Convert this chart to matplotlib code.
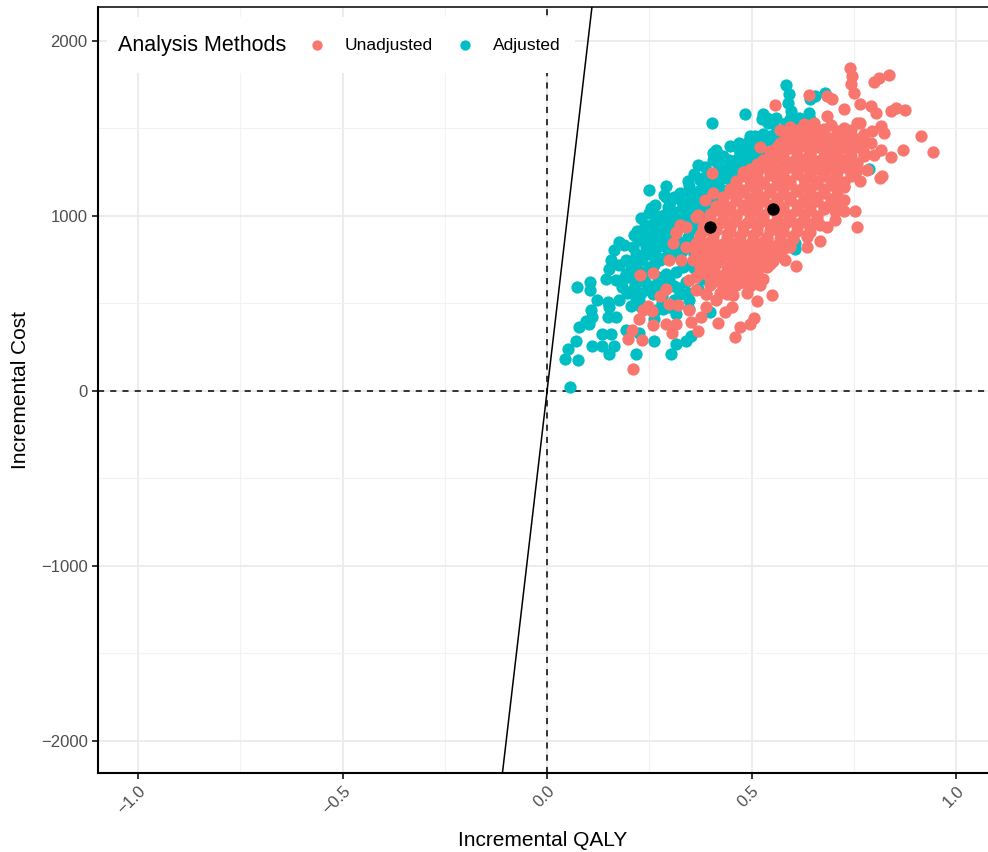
import matplotlib.pyplot as plt
from matplotlib.patches import Rectangle

plt.rcParams['font.family'] = ['Liberation Sans', 'DejaVu Sans']

# bootstrap replicates (incremental QALY, incremental cost)
adj_qaly = [
    0.584, 0.591, 0.589, 0.596, 0.656, 0.643, 0.680, 0.485, 0.403, 0.529, 0.537, 0.525, 0.541,
    0.369, 0.414, 0.406, 0.430, 0.418, 0.469, 0.492, 0.508, 0.529, 0.398, 0.381, 0.248, 0.291,
    0.295, 0.254, 0.250, 0.230, 0.260, 0.287, 0.221, 0.213, 0.176, 0.164, 0.189, 0.156, 0.152,
    0.176, 0.143, 0.168, 0.074, 0.104, 0.123, 0.148, 0.152, 0.107, 0.111, 0.095, 0.103, 0.078,
    0.168, 0.148, 0.135, 0.156, 0.111, 0.135, 0.164, 0.152, 0.070, 0.052, 0.043, 0.076, 0.193,
    0.217, 0.225, 0.262, 0.303, 0.316, 0.340, 0.352, 0.262, 0.398, 0.176, 0.205, 0.217, 0.258,
    0.283, 0.316, 0.348, 0.787, 0.606, 0.607, 0.056, 0.104,
    0.193, 0.217, 0.242, 0.275, 0.299, 0.316, 0.340, 0.365, 0.389, 0.414, 0.439, 0.463, 0.488,
    0.512, 0.545, 0.578, 0.611, 0.643, 0.201, 0.234, 0.250, 0.275, 0.299, 0.250, 0.275, 0.299,
    0.209, 0.225, 0.184, 0.324, 0.348, 0.373, 0.340, 0.291, 0.266, 0.234, 0.209, 0.217, 0.193,
    0.447, 0.471, 0.496, 0.553, 0.594, 0.627, 0.291, 0.316, 0.365, 0.389, 0.414, 0.439, 0.463,
    0.496, 0.529, 0.561, 0.594, 0.316, 0.348, 0.332, 0.291, 0.324, 0.348, 0.299, 0.266,
    0.258, 0.283, 0.308, 0.330, 0.355, 0.375, 0.400, 0.425, 0.450, 0.475, 0.500, 0.520, 0.545,
    0.570, 0.600, 0.620, 0.240, 0.265, 0.310, 0.330, 0.240, 0.270, 0.310, 0.340, 0.230, 0.280,
    0.310, 0.370, 0.380, 0.360, 0.300, 0.350, 0.390,
    0.205, 0.225, 0.250, 0.270, 0.290, 0.315, 0.335, 0.355, 0.380, 0.400, 0.425, 0.450, 0.475,
    0.500, 0.525, 0.555, 0.580, 0.610, 0.215, 0.240, 0.262, 0.285, 0.305, 0.322, 0.345, 0.360,
    0.375, 0.260, 0.290, 0.315, 0.340, 0.360, 0.195, 0.185, 0.230, 0.280, 0.320, 0.345, 0.262,
    0.285, 0.305, 0.330, 0.350, 0.300, 0.270, 0.240, 0.250, 0.225, 0.420, 0.445, 0.470, 0.490,
    0.520, 0.560, 0.585, 0.615, 0.640, 0.560,
    0.345, 0.360, 0.385, 0.405, 0.430, 0.455, 0.480, 0.505, 0.535, 0.395, 0.375, 0.355, 0.325,
    0.305, 0.280, 0.255, 0.232, 0.215, 0.270, 0.330, 0.310, 0.285, 0.265,
]
adj_cost = [
    1747, 1697, 1648, 1600, 1686, 1670, 1705, 1584, 1529, 1581, 1562, 1552, 1533,
    1291, 1376, 1360, 1341, 1303, 1418, 1422, 1456, 1466, 1245, 1217, 1146, 1111,
    1054, 1044, 1019, 989, 954, 1006, 916, 891, 852, 805, 833, 747, 699,
    718, 642, 632, 594, 575, 517, 508, 479, 460, 421, 402, 383, 364,
    421, 421, 326, 326, 259, 259, 259, 211, 287, 239, 180, 176, 349,
    213, 333, 287, 211, 268, 283, 316, 412, 450, 517, 488, 527, 555,
    466, 437, 466, 1269, 846, 811, 23, 623,
    747, 785, 824, 900, 939, 996, 1054, 1130, 1169, 1207, 1264, 1322, 1360,
    1418, 1456, 1494, 1533, 1552, 651, 670, 709, 747, 766, 575, 594, 632,
    575, 517, 594, 1130, 1169, 1207, 977, 824, 747, 900, 824, 709, 670,
    1398, 1360, 1456, 1533, 1552, 1513, 1169, 1111, 1092, 1054, 1092, 1149, 1226,
    1264, 1322, 1379, 1418, 862, 824, 709, 670, 555, 517, 479, 460,
    870, 850, 900, 940, 1000, 1040, 1100, 1150, 1200, 1250, 1300, 1350, 1400,
    1440, 1470, 1480, 790, 800, 780, 800, 620, 650, 600, 620, 560, 540,
    520, 580, 640, 700, 860, 920, 1000,
    700, 740, 780, 830, 880, 940, 1010, 1060, 1110, 1160, 1210, 1260, 1300,
    1350, 1390, 1420, 1460, 1490, 610, 680, 720, 760, 810, 850, 880, 950,
    1000, 600, 640, 680, 720, 780, 560, 640, 480, 500, 590, 560, 900,
    960, 1030, 1080, 1130, 1080, 1000, 950, 870, 860, 1280, 1320, 1380, 1410,
    1440, 1480, 1530, 1560, 1590, 1560,
    1200, 1240, 1280, 1320, 1230, 1290, 1330, 1380, 1420, 1200, 1150, 1090, 1030,
    990, 930, 820, 760, 740, 870, 980, 1110, 1120, 1060,
]

unadj_qaly = [
    0.740, 0.745, 0.743, 0.751, 0.799, 0.811, 0.836, 0.641, 0.558, 0.852, 0.875, 0.840, 0.915,
    0.943, 0.871, 0.841, 0.820, 0.814, 0.766, 0.752, 0.725, 0.705, 0.758, 0.668, 0.635, 0.609,
    0.582, 0.551, 0.512, 0.507, 0.496, 0.472, 0.459, 0.418, 0.414, 0.209, 0.199, 0.207, 0.232,
    0.225, 0.234, 0.259, 0.291, 0.305, 0.316, 0.352, 0.370, 0.377, 0.348, 0.389, 0.260, 0.227,
    0.257, 0.246, 0.275, 0.291, 0.299, 0.320, 0.402, 0.385, 0.406, 0.414, 0.369, 0.324, 0.316,
    0.299, 0.307, 0.521, 0.570, 0.586, 0.570, 0.627, 0.652, 0.684, 0.697, 0.684, 0.725, 0.766,
    0.791, 0.803, 0.816, 0.824, 0.795, 0.766, 0.791, 0.799, 0.816, 0.775, 0.783, 0.750, 0.725,
    0.725, 0.709, 0.705, 0.684, 0.668, 0.635, 0.594, 0.541, 0.521, 0.504, 0.480, 0.451, 0.439,
    0.451, 0.434, 0.389, 0.365, 0.348, 0.328, 0.340, 0.316, 0.340, 0.365,
    # dense core
    0.594, 0.627, 0.660, 0.693, 0.725, 0.758,
    0.611, 0.643, 0.676, 0.709, 0.742, 0.775,
    0.578, 0.611, 0.643, 0.676, 0.709, 0.742, 0.775,
    0.545, 0.578, 0.611, 0.643, 0.676, 0.709, 0.742, 0.775,
    0.529, 0.561, 0.594, 0.627, 0.660, 0.693, 0.725, 0.758,
    0.496, 0.529, 0.561, 0.594, 0.627, 0.660, 0.693, 0.725, 0.758,
    0.480, 0.512, 0.545, 0.578, 0.611, 0.643, 0.676, 0.709, 0.742,
    0.463, 0.496, 0.529, 0.561, 0.594, 0.627, 0.660, 0.693, 0.725,
    0.447, 0.480, 0.512, 0.545, 0.578, 0.611, 0.643, 0.676, 0.709,
    0.430, 0.463, 0.496, 0.529, 0.561, 0.594, 0.627, 0.660, 0.693,
    0.414, 0.447, 0.480, 0.512, 0.545, 0.578, 0.611, 0.643, 0.676,
    0.398, 0.430, 0.463, 0.496, 0.529, 0.561, 0.594, 0.627, 0.660,
    0.381, 0.414, 0.447, 0.480, 0.512, 0.545, 0.578, 0.611, 0.643,
    0.373, 0.406, 0.439, 0.471, 0.504, 0.537, 0.570, 0.602, 0.635,
    0.365, 0.398, 0.430, 0.463, 0.496, 0.529, 0.561, 0.594,
    0.365, 0.398, 0.430, 0.463, 0.496, 0.529, 0.561,
    0.357, 0.389, 0.422, 0.455, 0.488, 0.520, 0.553,
    0.373, 0.406, 0.439, 0.471, 0.504, 0.537,
    0.365, 0.398, 0.430, 0.463, 0.496, 0.529,
    0.398, 0.430, 0.463, 0.496, 0.520,
    0.389, 0.422, 0.455, 0.488,
    # core, second pass between rows
    0.610, 0.645, 0.678, 0.712, 0.744,
    0.595, 0.628, 0.660, 0.693, 0.726, 0.760,
    0.562, 0.595, 0.628, 0.660, 0.692, 0.725, 0.758,
    0.545, 0.578, 0.611, 0.643, 0.676, 0.709, 0.742,
    0.512, 0.545, 0.578, 0.611, 0.643, 0.676, 0.709, 0.742,
    0.480, 0.512, 0.545, 0.578, 0.611, 0.643, 0.676, 0.709, 0.742,
    0.463, 0.496, 0.529, 0.561, 0.594, 0.627, 0.660, 0.693, 0.725,
    0.447, 0.480, 0.512, 0.545, 0.578, 0.611, 0.643, 0.676, 0.709,
    0.430, 0.463, 0.496, 0.529, 0.561, 0.594, 0.627, 0.660, 0.693,
    0.414, 0.447, 0.480, 0.512, 0.545, 0.578, 0.611, 0.643, 0.676,
    0.398, 0.430, 0.463, 0.496, 0.529, 0.561, 0.594, 0.627, 0.660,
    0.389, 0.422, 0.455, 0.488, 0.520, 0.553, 0.586, 0.619, 0.652,
    0.381, 0.414, 0.447, 0.480, 0.512, 0.545, 0.578, 0.611, 0.643,
    0.373, 0.406, 0.439, 0.471, 0.504, 0.537, 0.570, 0.602,
    0.381, 0.414, 0.447, 0.480, 0.512, 0.545, 0.578,
    0.373, 0.406, 0.439, 0.471, 0.504, 0.537, 0.566,
    0.381, 0.414, 0.447, 0.480, 0.512, 0.545,
    0.381, 0.414, 0.447, 0.480, 0.512,
    0.414, 0.447, 0.480, 0.504,
]
unadj_cost = [
    1848, 1801, 1753, 1705, 1763, 1791, 1805, 1690, 1632, 1619, 1605, 1600, 1456,
    1366, 1376, 1337, 1226, 1216, 1197, 1031, 1031, 1031, 939, 858, 824, 716,
    751, 550, 513, 418, 383, 368, 310, 389, 517, 124, 299, 351, 292,
    409, 464, 376, 382, 332, 382, 393, 345, 421, 460, 479, 673, 665,
    456, 485, 543, 585, 495, 489, 1245, 1092, 1130, 1054, 1006, 948, 910,
    747, 843, 1395, 1494, 1446, 1418, 1466, 1533, 1571, 1667, 1686, 1609, 1638,
    1628, 1590, 1513, 1475, 1485, 1533, 1418, 1351, 1379, 1341, 1264, 1236, 1169,
    1092, 1054, 977, 939, 948, 881, 824, 747, 709, 670, 623, 594, 555,
    479, 450, 555, 575, 632, 747, 824, 900, 939, 996,
    # dense core
    1510, 1525, 1498, 1520, 1505, 1530,
    1462, 1475, 1455, 1470, 1460, 1468,
    1420, 1405, 1430, 1412, 1425, 1400, 1415,
    1372, 1365, 1380, 1360, 1375, 1368, 1378, 1362,
    1318, 1330, 1310, 1325, 1315, 1335, 1320, 1305,
    1270, 1280, 1265, 1278, 1285, 1268, 1275, 1282, 1262,
    1226, 1215, 1232, 1220, 1238, 1222, 1230, 1212, 1228,
    1180, 1172, 1188, 1175, 1182, 1170, 1185, 1178, 1168,
    1130, 1138, 1122, 1135, 1126, 1140, 1128, 1132, 1120,
    1082, 1090, 1075, 1086, 1078, 1092, 1080, 1084, 1074,
    1034, 1028, 1040, 1030, 1038, 1026, 1036, 1032, 1042,
    987, 980, 992, 984, 990, 978, 994, 986, 982,
    939, 945, 932, 942, 936, 948, 934, 940, 930,
    891, 885, 896, 888, 894, 882, 898, 886, 890,
    843, 850, 838, 846, 840, 852, 836, 845,
    795, 788, 800, 792, 798, 786, 802,
    747, 752, 742, 750, 745, 755, 740,
    699, 705, 692, 702, 696, 708,
    651, 645, 656, 648, 654, 642,
    603, 598, 608, 600, 606,
    555, 560, 550, 558,
    # core, second pass between rows
    1490, 1485, 1495, 1488, 1492,
    1442, 1448, 1436, 1445, 1440, 1438,
    1395, 1390, 1400, 1392, 1398, 1388, 1396,
    1346, 1352, 1340, 1350, 1344, 1348, 1342,
    1298, 1305, 1292, 1300, 1296, 1302, 1294, 1290,
    1250, 1245, 1256, 1248, 1252, 1244, 1254, 1250, 1246,
    1202, 1208, 1196, 1204, 1200, 1210, 1198, 1205, 1195,
    1154, 1150, 1160, 1152, 1158, 1148, 1156, 1153, 1150,
    1106, 1112, 1100, 1108, 1104, 1110, 1102, 1106, 1098,
    1058, 1052, 1064, 1056, 1060, 1050, 1062, 1058, 1054,
    1010, 1016, 1004, 1012, 1008, 1014, 1006, 1010, 1002,
    962, 958, 968, 960, 964, 956, 966, 962, 958,
    914, 920, 908, 916, 912, 918, 910, 914, 906,
    866, 860, 872, 864, 868, 862, 870, 866,
    818, 824, 812, 820, 816, 822, 814,
    770, 766, 776, 768, 772, 764, 774,
    722, 728, 716, 724, 720, 726,
    674, 670, 680, 672, 676,
    626, 632, 620, 628,
]

group_names = ['Unadjusted', 'Adjusted']
group_colors = ['#F8766D', '#00BFC4']
mean_qaly = [0.553, 0.398]
mean_cost = [1040, 939]
wtp = 20000

fig = plt.figure(figsize=(9.88, 8.52), dpi=100)
ax = fig.add_axes([98 / 988, 1 - 773 / 852, 890 / 988, 766 / 852])

ax.set_xlim(-1.098, 1.078)
ax.set_ylim(-2183, 2194)
ax.set_xticks([-1.0, -0.5, 0.0, 0.5, 1.0])
ax.set_xticks([-0.75, -0.25, 0.25, 0.75], minor=True)
ax.set_yticks([-2000, -1000, 0, 1000, 2000])
ax.set_yticks([-1500, -500, 500, 1500], minor=True)
ax.set_xticklabels(['\u22121.0', '\u22120.5', '0.0', '0.5', '1.0'])
ax.set_yticklabels(['\u22122000', '\u22121000', '0', '1000', '2000'])
ax.grid(True, which='major', color='#EBEBEB', linewidth=1.3, zorder=0)
ax.grid(True, which='minor', color='#F2F2F2', linewidth=0.8, zorder=0)
ax.set_axisbelow(True)

for lbl in ax.get_xticklabels():
    lbl.set_rotation(45)
    lbl.set_ha('right')
    lbl.set_va('top')
    lbl.set_rotation_mode('anchor')
ax.tick_params(which='major', labelsize=12, labelcolor='#4D4D4D', length=4, width=1.1, color='black')
ax.tick_params(which='minor', length=0)

ax.spines['right'].set_visible(False)
ax.spines['left'].set_linewidth(1.5)
ax.spines['bottom'].set_linewidth(1.5)
ax.spines['top'].set_linewidth(1.1)

ax.axhline(0, color='black', linestyle=(0, (4, 4)), linewidth=1.1, zorder=1)
ax.axvline(0, color='black', linestyle=(0, (4, 4)), linewidth=1.1, zorder=1)
ax.axline((0, 0), slope=wtp, color='black', linewidth=1.1, zorder=1)

ax.scatter(adj_qaly, adj_cost, s=78, color=group_colors[1], linewidths=0, zorder=2)
ax.scatter(unadj_qaly, unadj_cost, s=78, color=group_colors[0], linewidths=0, zorder=3)
ax.scatter(mean_qaly, mean_cost, s=80, color='black', linewidths=0, zorder=4)

ax.set_xlabel('Incremental QALY', fontsize=15, labelpad=10)
ax.set_ylabel('Incremental Cost', fontsize=15, labelpad=8)

# legend drawn by hand: title on the left, keys in one row, white box
ax.add_patch(Rectangle((0.0101, 0.9138), 0.526, 0.073, transform=ax.transAxes,
                       facecolor='white', edgecolor='none', zorder=5))
ax.text(0.0225, 0.950, 'Analysis Methods', transform=ax.transAxes, fontsize=15.5,
        va='center', ha='left', zorder=6)
key_x = [0.246, 0.412]
for kx, name, col in zip(key_x, group_names, group_colors):
    ax.scatter([kx], [0.950], s=55, color=col, linewidths=0, transform=ax.transAxes,
               zorder=6, clip_on=False)
    ax.text(kx + 0.0315, 0.950, name, transform=ax.transAxes, fontsize=12.5,
            va='center', ha='left', zorder=6)

fig.savefig('out.png', dpi=100)
